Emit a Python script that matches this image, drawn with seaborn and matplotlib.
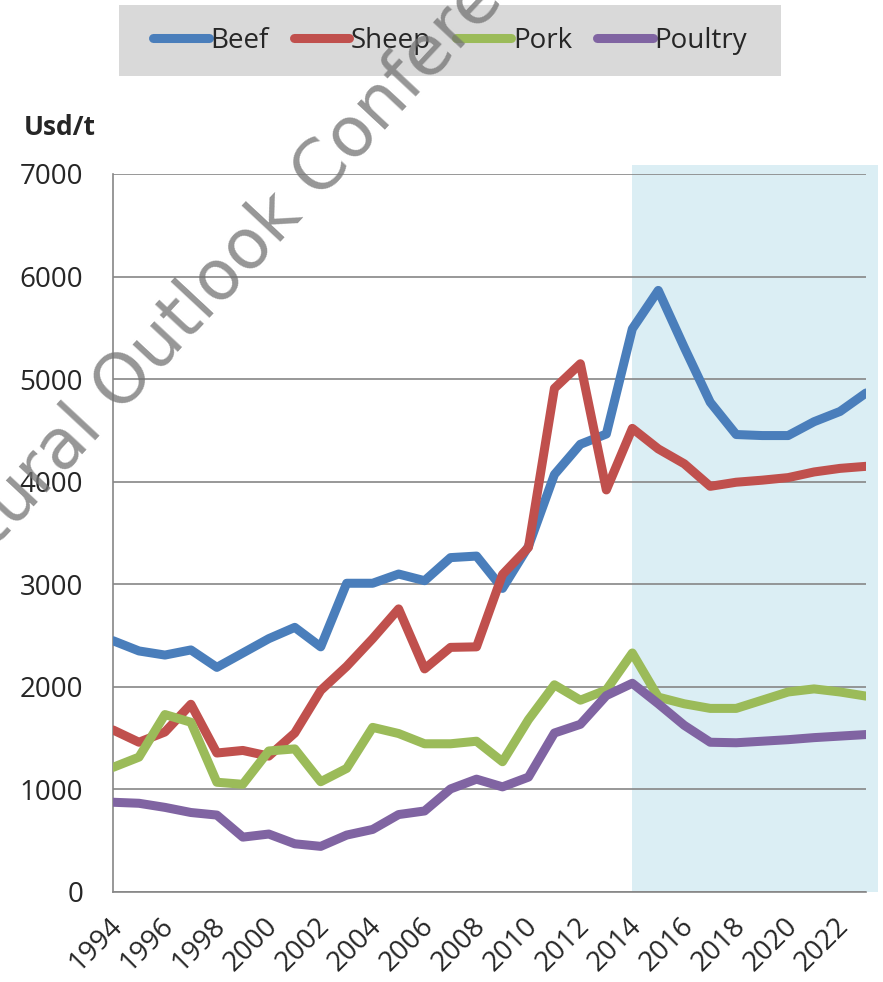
import pandas as pd
import matplotlib.pyplot as plt
import seaborn as sns
from matplotlib.patches import Rectangle
from matplotlib.transforms import ScaledTranslation

# data (USD per tonne)
years = [1994, 1995, 1996, 1997, 1998, 1999, 2000, 2001, 2002, 2003,
         2004, 2005, 2006, 2007, 2008, 2009, 2010, 2011, 2012, 2013,
         2014, 2015, 2016, 2017, 2018, 2019, 2020, 2021, 2022, 2023]
beef = [2450, 2350, 2310, 2360, 2190, 2330, 2470, 2580, 2390, 3010,
        3010, 3100, 3035, 3260, 3275, 2960, 3370, 4070, 4365, 4465,
        5490, 5865, 5310, 4775, 4460, 4450, 4450, 4585, 4685, 4865]
sheep = [1580, 1460, 1560, 1830, 1355, 1380, 1325, 1550, 1965, 2200,
         2470, 2760, 2175, 2385, 2390, 3095, 3360, 4910, 5150, 3920,
         4520, 4320, 4175, 3955, 3995, 4015, 4040, 4095, 4130, 4150]
pork = [1215, 1315, 1730, 1655, 1070, 1050, 1375, 1395, 1075, 1205,
        1605, 1545, 1445, 1445, 1470, 1270, 1680, 2020, 1870, 1970,
        2330, 1900, 1835, 1790, 1790, 1870, 1950, 1980, 1950, 1910]
poultry = [875, 865, 825, 775, 750, 535, 565, 470, 445, 555,
           610, 755, 790, 1005, 1100, 1025, 1120, 1550, 1635, 1915,
           2035, 1835, 1625, 1460, 1455, 1470, 1485, 1505, 1520, 1535]
meats = ["Beef", "Sheep", "Pork", "Poultry"]
colors = ["#4A7EBB", "#C0504D", "#9BBB59", "#8064A2"]
forecast_start = 2014

df = pd.DataFrame({"year": years, "Beef": beef, "Sheep": sheep,
                   "Pork": pork, "Poultry": poultry})
df = df.melt(id_vars="year", var_name="meat", value_name="price")

sns.set_style("white")
plt.rcParams["font.family"] = ["Open Sans", "DejaVu Sans"]

W, H = 883, 982
fig = plt.figure(figsize=(W / 100, H / 100), dpi=100)
ax = fig.add_axes([113 / W, 90 / H, 753 / W, 718 / H])

# projection period shading
ax.add_patch(Rectangle((forecast_start, 0), years[-1] + 0.45 - forecast_start, 7090,
                       facecolor="#DBEEF4", edgecolor="none", zorder=0, clip_on=False))

sns.lineplot(data=df, x="year", y="price", hue="meat", hue_order=meats,
             palette=colors, lw=6.5, ax=ax, legend=False, sort=False,
             solid_capstyle="round", solid_joinstyle="round", zorder=3)

gray = "#868686"
ax.set_xlim(years[0], years[-1])
ax.set_ylim(0, 7000)
ax.set_yticks(range(0, 8000, 1000))
ax.set_xticks(years)
ax.set_xticklabels([str(y) if y % 2 == 0 else "" for y in years],
                   rotation=45, ha="right", va="center", rotation_mode="anchor")
ax.yaxis.grid(True, color=gray, lw=1.2)
ax.set_axisbelow(True)
ax.set_facecolor("none")
for s in ["top", "right"]:
    ax.spines[s].set_visible(False)
for s in ["left", "bottom"]:
    ax.spines[s].set_color(gray)
    ax.spines[s].set_linewidth(1.2)
ax.tick_params(axis="y", length=6.5, width=1.2, color=gray, pad=15, labelsize=20)
ax.tick_params(axis="x", length=7.2, width=1.2, color=gray, pad=14.5, labelsize=20)
shift = ScaledTranslation(5 / 100, 0, fig.dpi_scale_trans)
for lab in ax.get_xticklabels():
    lab.set_transform(lab.get_transform() + shift)
ax.set_xlabel("")
ax.set_ylabel("")

fig.text(24 / W, 1 - 135 / H, "Usd/t", fontsize=19, fontweight="bold",
         va="baseline", ha="left")

# legend band
fig.patches.append(Rectangle((119 / W, 1 - 76 / H), 662 / W, 71 / H,
                             transform=fig.transFigure, facecolor="#D9D9D9",
                             edgecolor="none", zorder=0))
handles = [plt.Line2D([0], [0], color=c, lw=6.5, solid_capstyle="round") for c in colors]
fig.legend(handles, meats, loc="center", bbox_to_anchor=(450 / W, 1 - 41 / H),
           ncol=4, frameon=False, fontsize=20, handlelength=2.0,
           handletextpad=0.05, columnspacing=0.9)

# watermark
fig.text(-170 / W, 1 - 725 / H, "Agricultural Outlook Conference", fontsize=50,
         color="0.45", alpha=0.75, rotation=47, rotation_mode="anchor",
         ha="left", va="baseline", zorder=10, family="DejaVu Sans")

fig.savefig("out.png", dpi=100)
